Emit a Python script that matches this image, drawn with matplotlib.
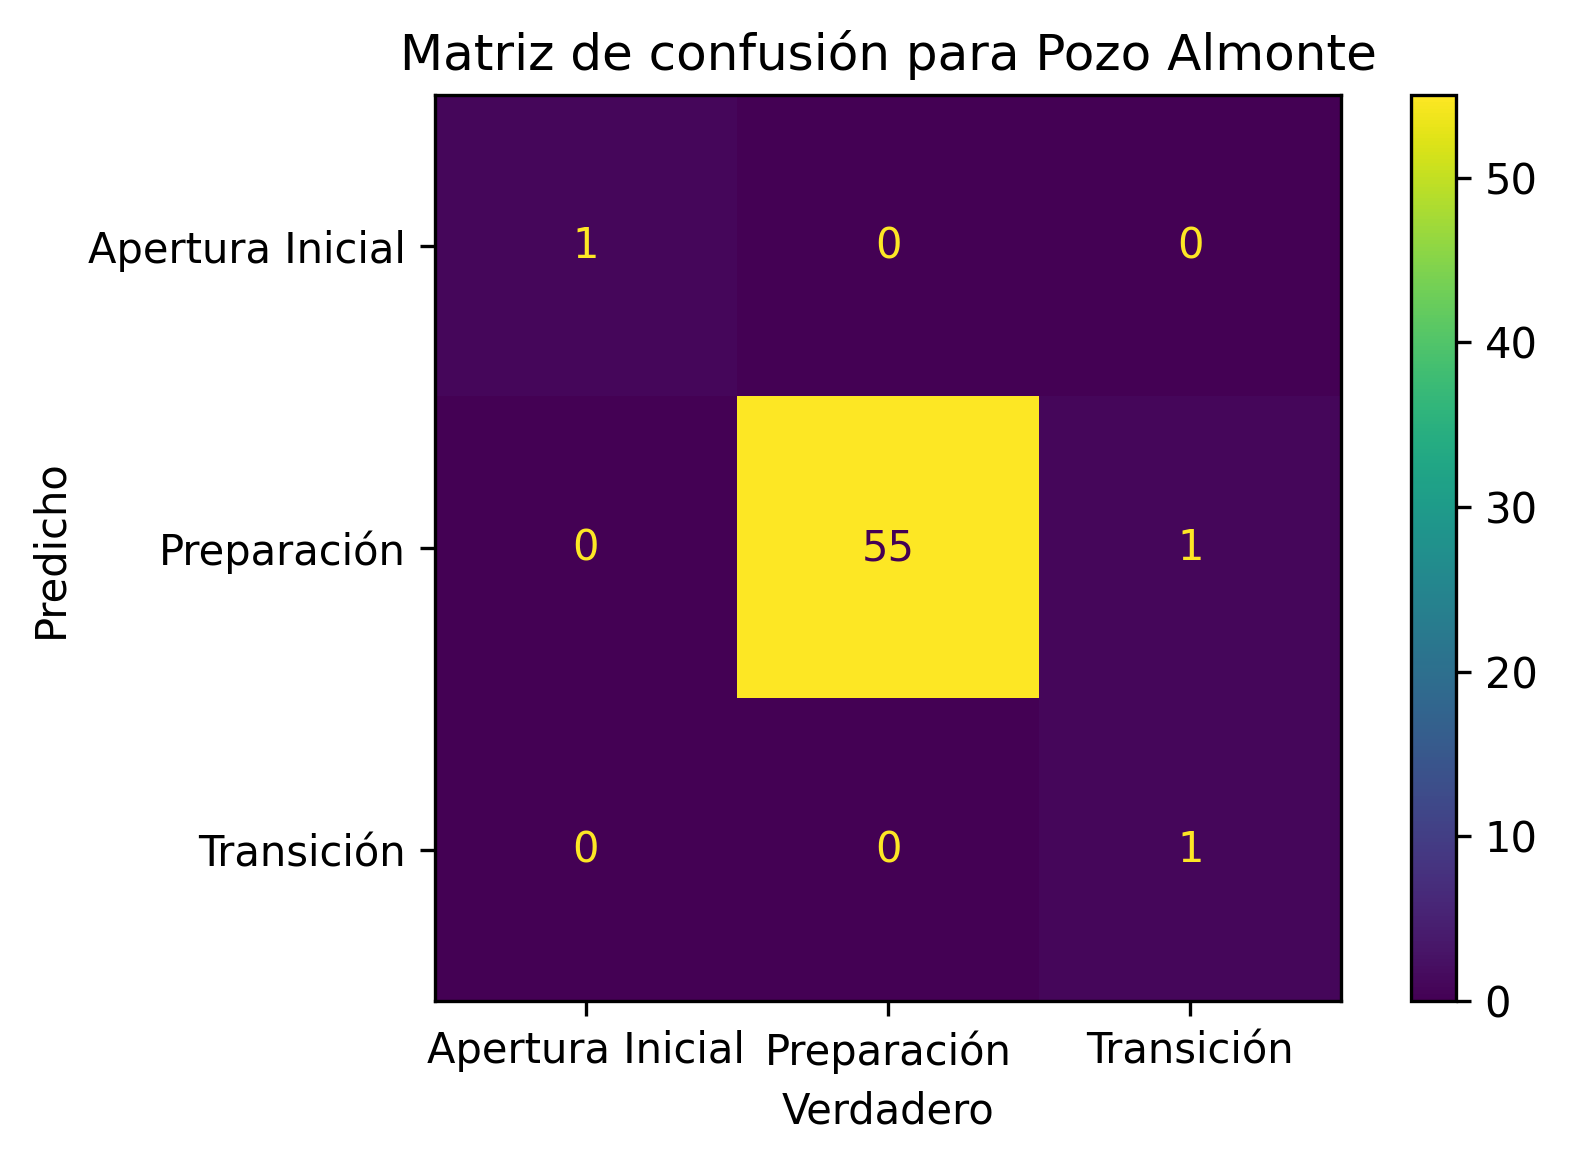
import numpy as np
import matplotlib
matplotlib.use("Agg")
import matplotlib.pyplot as plt

etiquetas = ["Apertura Inicial", "Preparación", "Transición"]
matriz = np.array([[1, 0, 0],
                   [0, 55, 1],
                   [0, 0, 1]])

fig = plt.figure(figsize=(1569/300, 1162/300), dpi=300)
ax = fig.add_axes([0.277, 0.1385, 0.578, 0.7795])
cax = fig.add_axes([0.899, 0.1385, 0.0287, 0.7795])

cmap = plt.get_cmap("viridis")
im = ax.imshow(matriz, cmap=cmap, interpolation="nearest", vmin=matriz.min(), vmax=matriz.max(), aspect="auto")
fig.colorbar(im, cax=cax)

umbral = (matriz.max() + matriz.min()) / 2.0
for i in range(matriz.shape[0]):
    for j in range(matriz.shape[1]):
        color = cmap(0) if matriz[i, j] > umbral else cmap(256)
        ax.text(j, i, str(matriz[i, j]), ha="center", va="center", color=color)

ax.set_xticks(range(len(etiquetas)))
ax.set_xticklabels(etiquetas)
ax.set_yticks(range(len(etiquetas)))
ax.set_yticklabels(etiquetas)
ax.set_xlabel("Verdadero")
ax.set_ylabel("Predicho")
ax.set_title("Matriz de confusión para Pozo Almonte")

fig.savefig("out.png", dpi=300)
